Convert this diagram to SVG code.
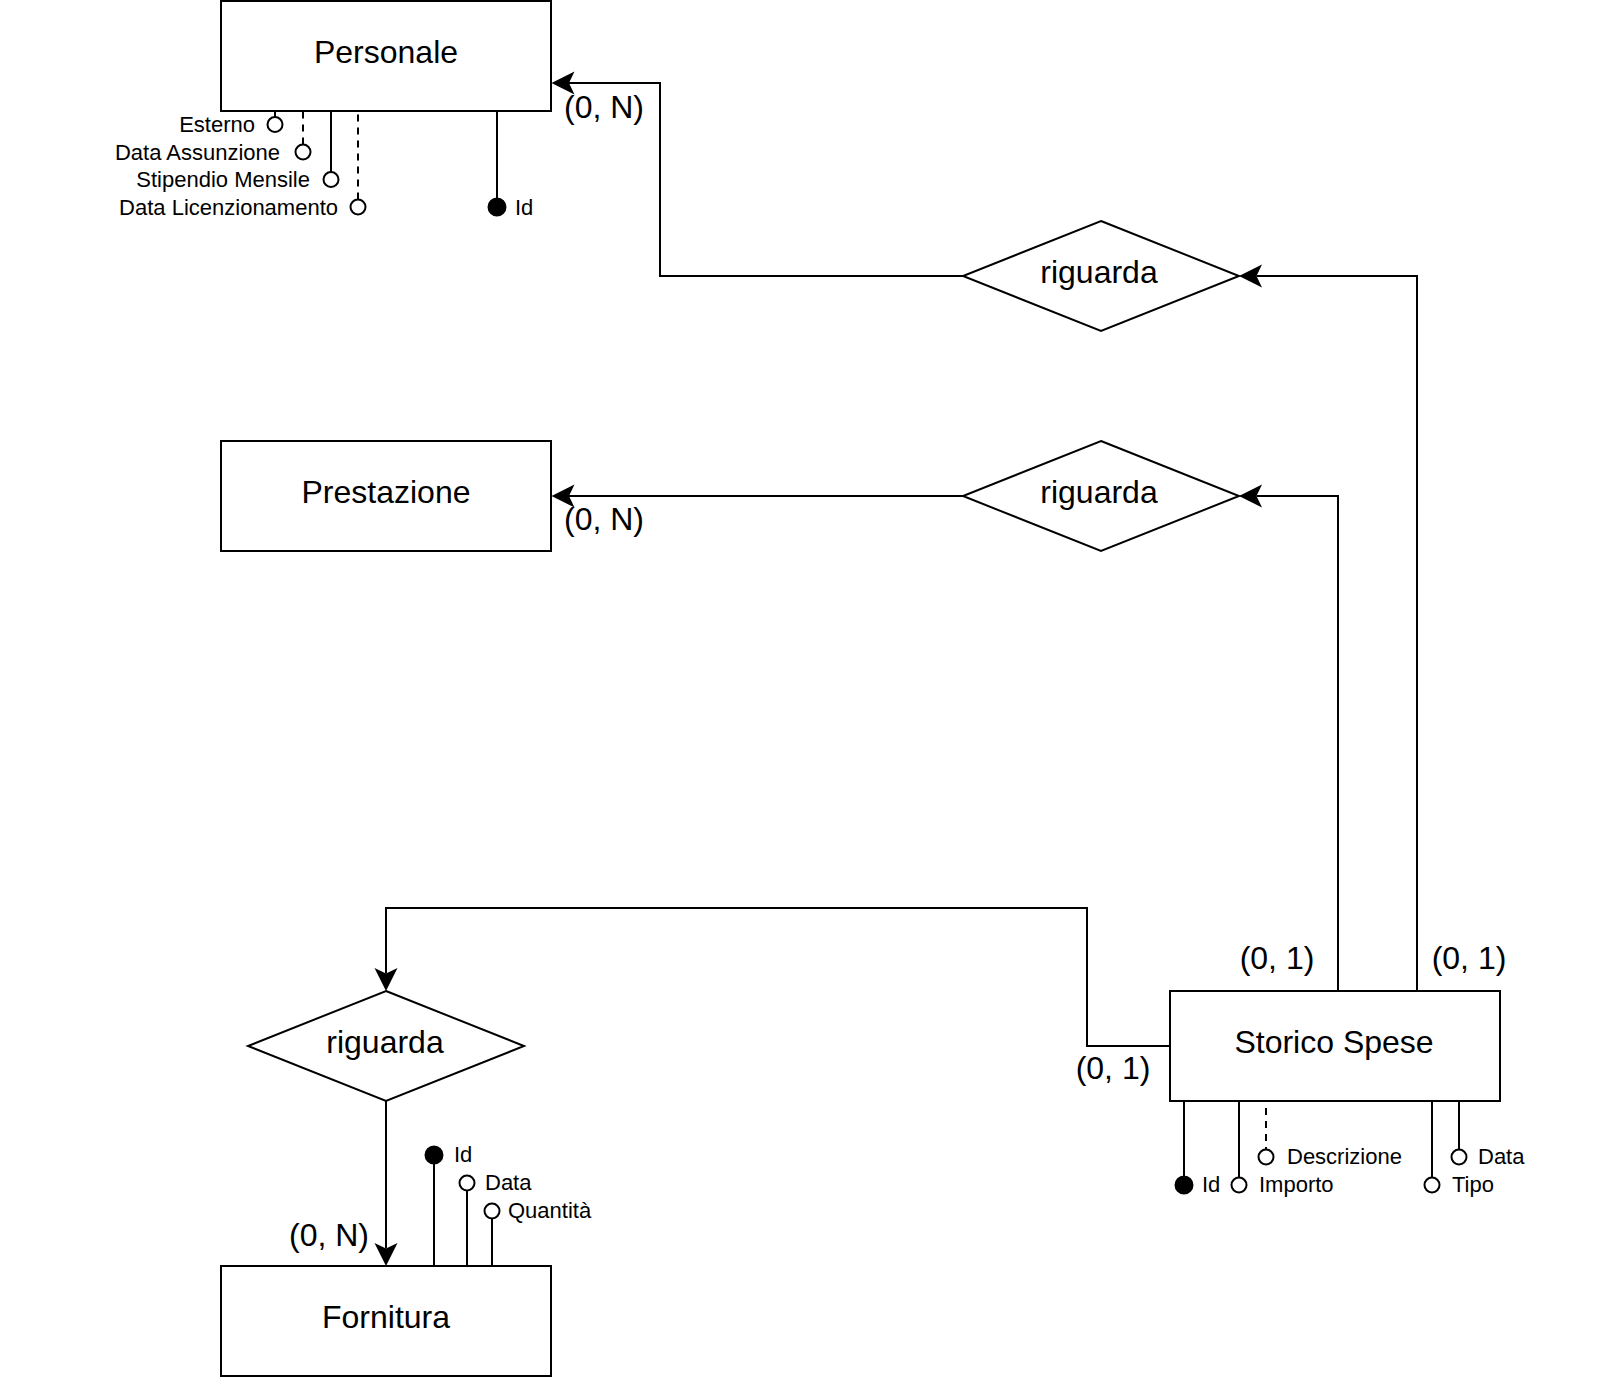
<svg xmlns="http://www.w3.org/2000/svg" width="1600" height="1380" viewBox="0 0 1600 1380">
  <style>
    .shape { fill: #ffffff; stroke: #000000; stroke-width: 2; }
    .title { font-family: "Liberation Sans", Arial, Helvetica, sans-serif; font-size: 32px; fill: #000000; text-anchor: middle; }
    .card { font-family: "Liberation Sans", Arial, Helvetica, sans-serif; font-size: 32px; fill: #000000; text-anchor: middle; }
    .attr { font-family: "Liberation Sans", Arial, Helvetica, sans-serif; font-size: 22px; fill: #000000; }
    .left { text-anchor: end; }
    .link { fill: none; stroke: #000000; stroke-width: 2; }
    .dash { stroke-dasharray: 7 6; }
    .opt { fill: #ffffff; stroke: #000000; stroke-width: 2; }
    .key { fill: #000000; stroke: #000000; stroke-width: 2; }
  </style>
  <defs>
    <marker id="arrow" viewBox="-7 -13 27 26" refX="0" refY="0" markerWidth="27" markerHeight="26" markerUnits="userSpaceOnUse" orient="auto">
      <path d="M17.5,0 L-5.5,-11.5 L0,0 L-5.5,11.5 Z" fill="#000000"/>
    </marker>
  </defs>

  <rect width="1600" height="1380" fill="#ffffff"/>

  <!-- relationship connectors -->
  <g id="connectors">
    <path class="link" d="M1417,991 L1417,276 L1256.5,276" marker-end="url(#arrow)"/>
    <path class="link" d="M963,276 L660,276 L660,83 L569,83" marker-end="url(#arrow)"/>
    <path class="link" d="M1338,991 L1338,496 L1256.5,496" marker-end="url(#arrow)"/>
    <path class="link" d="M963,496 L569,496" marker-end="url(#arrow)"/>
    <path class="link" d="M1169,1046 L1087,1046 L1087,908 L386,908 L386,973.5" marker-end="url(#arrow)"/>
    <path class="link" d="M386,1101 L386,1248.5" marker-end="url(#arrow)"/>
    <text class="card" x="604" y="118">(0, N)</text>
    <text class="card" x="604" y="530">(0, N)</text>
    <text class="card" x="1277" y="969">(0, 1)</text>
    <text class="card" x="1469" y="969">(0, 1)</text>
    <text class="card" x="1113" y="1079">(0, 1)</text>
    <text class="card" x="329" y="1246">(0, N)</text>
  </g>

  <!-- entity: Personale -->
  <g id="personale">
    <path class="link" d="M275,110 L275,117"/>
    <path class="link dash" d="M303,144.5 L303,111"/>
    <path class="link" d="M331,110 L331,172"/>
    <path class="link dash" d="M358,199.5 L358,111"/>
    <path class="link" d="M497,110 L497,207"/>
    <rect class="shape" x="221" y="1" width="330" height="110"/>
    <text class="title" x="386" y="63">Personale</text>
    <circle class="opt" cx="275" cy="124.5" r="7.5"/>
    <circle class="opt" cx="303" cy="152" r="7.5"/>
    <circle class="opt" cx="331" cy="179.5" r="7.5"/>
    <circle class="opt" cx="358" cy="207" r="7.5"/>
    <circle class="key" cx="497" cy="207" r="8.5"/>
    <text class="attr left" x="255" y="132">Esterno</text>
    <text class="attr left" x="280" y="159.5">Data Assunzione</text>
    <text class="attr left" x="310" y="187">Stipendio Mensile</text>
    <text class="attr left" x="338" y="214.5">Data Licenzionamento</text>
    <text class="attr" x="515" y="214.5">Id</text>
  </g>

  <!-- entity: Prestazione -->
  <g id="prestazione">
    <rect class="shape" x="221" y="441" width="330" height="110"/>
    <text class="title" x="386" y="503">Prestazione</text>
  </g>

  <!-- relationship: riguarda (Storico Spese - Personale) -->
  <g id="riguarda-personale">
    <polygon class="shape" points="1101,221 1239,276 1101,331 963,276"/>
    <text class="title" x="1099" y="283">riguarda</text>
  </g>

  <!-- relationship: riguarda (Storico Spese - Prestazione) -->
  <g id="riguarda-prestazione">
    <polygon class="shape" points="1101,441 1239,496 1101,551 963,496"/>
    <text class="title" x="1099" y="503">riguarda</text>
  </g>

  <!-- relationship: riguarda (Storico Spese - Fornitura) -->
  <g id="riguarda-fornitura">
    <polygon class="shape" points="386,991 524,1046 386,1101 248,1046"/>
    <text class="title" x="385" y="1053">riguarda</text>
  </g>

  <!-- entity: Storico Spese -->
  <g id="storico-spese">
    <path class="link" d="M1184,1101 L1184,1185"/>
    <path class="link" d="M1239,1101 L1239,1177.5"/>
    <path class="link dash" d="M1266,1102 L1266,1149.5" stroke-dashoffset="7"/>
    <path class="link" d="M1432,1101 L1432,1177.5"/>
    <path class="link" d="M1459,1101 L1459,1149.5"/>
    <rect class="shape" x="1170" y="991" width="330" height="110"/>
    <text class="title" x="1334" y="1053">Storico Spese</text>
    <circle class="key" cx="1184" cy="1185" r="8.5"/>
    <circle class="opt" cx="1239" cy="1185" r="7.5"/>
    <circle class="opt" cx="1266" cy="1157" r="7.5"/>
    <circle class="opt" cx="1432" cy="1185" r="7.5"/>
    <circle class="opt" cx="1459" cy="1157" r="7.5"/>
    <text class="attr" x="1202" y="1192">Id</text>
    <text class="attr" x="1259" y="1192">Importo</text>
    <text class="attr" x="1287" y="1164">Descrizione</text>
    <text class="attr" x="1452" y="1192">Tipo</text>
    <text class="attr" x="1478" y="1164">Data</text>
  </g>

  <!-- entity: Fornitura -->
  <g id="fornitura">
    <path class="link" d="M434,1155 L434,1266"/>
    <path class="link" d="M467,1190.5 L467,1266"/>
    <path class="link" d="M492,1218.5 L492,1266"/>
    <rect class="shape" x="221" y="1266" width="330" height="110"/>
    <text class="title" x="386" y="1328">Fornitura</text>
    <circle class="key" cx="434" cy="1155" r="8.5"/>
    <circle class="opt" cx="467" cy="1183" r="7.5"/>
    <circle class="opt" cx="492" cy="1211" r="7.5"/>
    <text class="attr" x="454" y="1162">Id</text>
    <text class="attr" x="485" y="1190">Data</text>
    <text class="attr" x="508" y="1218">Quantità</text>
  </g>
</svg>
